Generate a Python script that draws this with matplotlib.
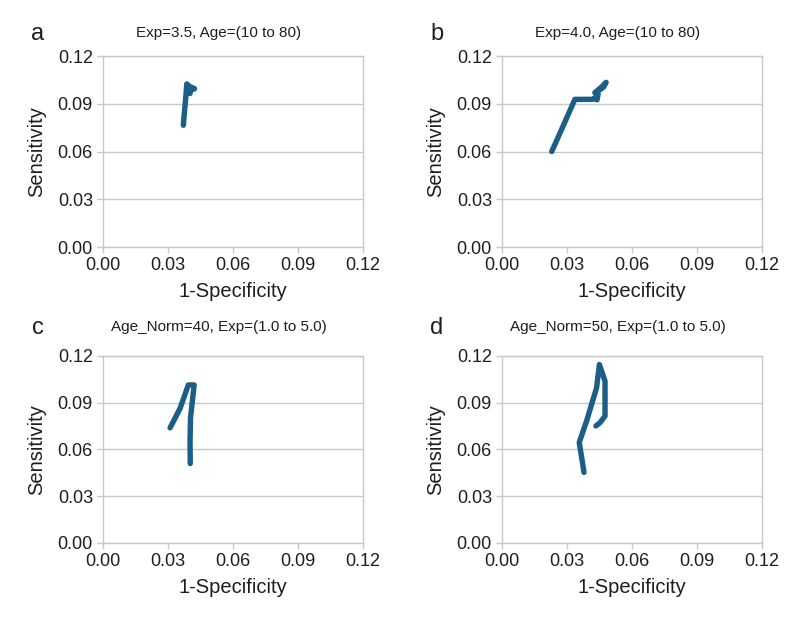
import matplotlib.pyplot as plt

plt.rcParams['font.family'] = ['Liberation Sans', 'DejaVu Sans']

# courbes (1-specificite, sensibilite)
a_x = [0.0372, 0.0376, 0.0380, 0.0384, 0.0388, 0.0400, 0.0424, 0.0405, 0.0403, 0.0396]
a_y = [0.0765, 0.0830, 0.0890, 0.0950, 0.1025, 0.1010, 0.0995, 0.0985, 0.0965, 0.0990]

b_x = [0.0231, 0.0285, 0.0338, 0.0415, 0.0425, 0.0435, 0.0440, 0.0445, 0.0430, 0.0465, 0.0482, 0.0470, 0.0450]
b_y = [0.0600, 0.0765, 0.0928, 0.0928, 0.0930, 0.0945, 0.0925, 0.0960, 0.0970, 0.1010, 0.1035, 0.1005, 0.0985]

c_x = [0.0311, 0.0357, 0.0395, 0.0422, 0.0405, 0.0403, 0.0404]
c_y = [0.0739, 0.0864, 0.1014, 0.1014, 0.0800, 0.0650, 0.0510]

d_x = [0.0380, 0.0369, 0.0358, 0.0392, 0.0438, 0.0451, 0.0477, 0.0477, 0.0454, 0.0435]
d_y = [0.0453, 0.0549, 0.0645, 0.0783, 0.0996, 0.1145, 0.1038, 0.0815, 0.0772, 0.0751]

titles = ['Exp=3.5, Age=(10 to 80)', 'Exp=4.0, Age=(10 to 80)',
          'Age_Norm=40, Exp=(1.0 to 5.0)', 'Age_Norm=50, Exp=(1.0 to 5.0)']
letters = ['a', 'b', 'c', 'd']
ticks = [0.00, 0.03, 0.06, 0.09, 0.12]
tick_labels = ['0.00', '0.03', '0.06', '0.09', '0.12']

line_color = '#1b5f88'
grid_color = '#c8c8c8'

fig = plt.figure(figsize=(8, 6.18), dpi=100)

# positions des 4 panneaux (gauche, bas, largeur, hauteur)
positions = [
    [0.1284, 0.6003, 0.325, 0.309],
    [0.6271, 0.6003, 0.325, 0.309],
    [0.1284, 0.1214, 0.325, 0.3026],
    [0.6271, 0.1214, 0.325, 0.3026],
]
# hauteur du titre et de la lettre au-dessus de chaque panneau
title_y = [1.12, 1.12, 1.155, 1.155]
letter_y = [1.115, 1.115, 1.15, 1.15]
curves = [(a_x, a_y), (b_x, b_y), (c_x, c_y), (d_x, d_y)]

for i in range(4):
    ax = fig.add_axes(positions[i])
    xs, ys = curves[i]
    ax.plot(xs, ys, color=line_color, lw=3.9,
            solid_capstyle='round', solid_joinstyle='round')

    ax.set_xlim(0, 0.12)
    ax.set_ylim(0, 0.12)
    ax.set_xticks(ticks)
    ax.set_xticklabels(tick_labels)
    ax.set_yticks(ticks)
    ax.set_yticklabels(tick_labels)
    ax.tick_params(labelsize=13, length=4, width=1, color=grid_color,
                   labelcolor='#1e1e1e', pad=3)
    ax.grid(axis='y', color=grid_color, lw=1)
    ax.set_axisbelow(True)
    for s in ax.spines.values():
        s.set_color(grid_color)
        s.set_linewidth(1)

    ax.set_xlabel('1-Specificity', fontsize=14.5, color='#1e1e1e', labelpad=6)
    ax.set_ylabel('Sensitivity', fontsize=14.5, color='#1e1e1e', labelpad=8)

    ax.text(0.447, title_y[i], titles[i], transform=ax.transAxes, ha='center',
            va='center', fontsize=11, color='#1e1e1e')
    ax.text(-0.25, letter_y[i], letters[i], transform=ax.transAxes, ha='center',
            va='center', fontsize=17, color='#1e1e1e')

plt.savefig('out.png', dpi=100)
